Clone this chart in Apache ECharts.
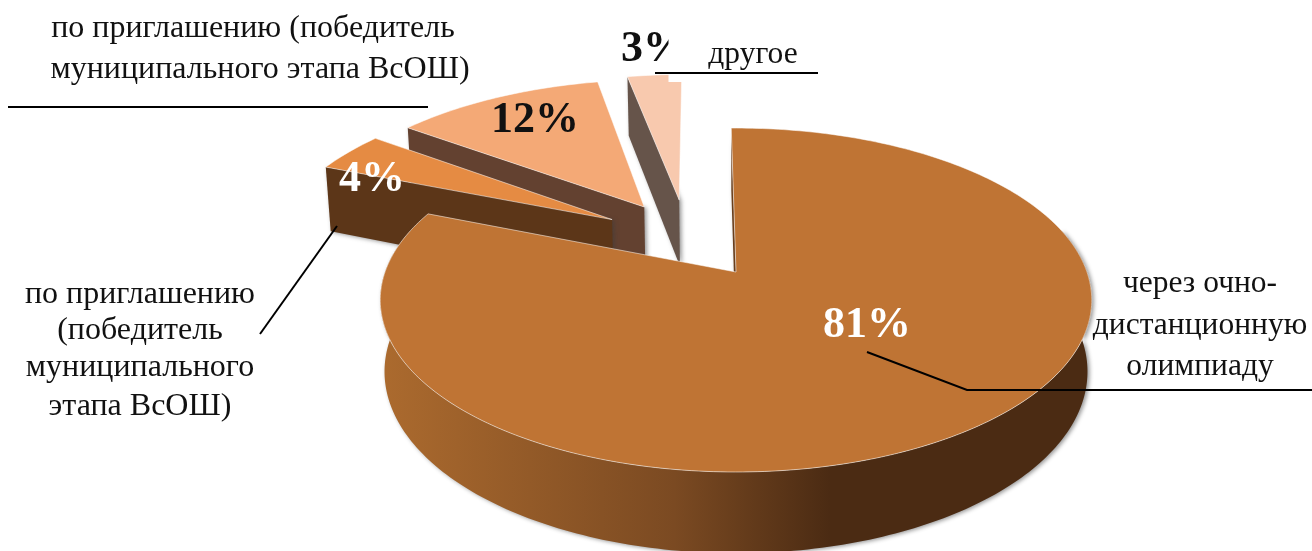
<!DOCTYPE html>
<html><head><meta charset="utf-8">
<script src="https://cdn.jsdelivr.net/npm/echarts@6/dist/echarts.min.js"></script>
<style>html,body{margin:0;padding:0;background:#fff}#c{width:1312px;height:551px}</style>
</head><body><div id="c"></div>
<script>
const categories = ['через очно-дистанционную олимпиаду','по приглашению (победитель муниципального этапа ВсОШ)','по приглашению (победитель муниципального этапа ВсОШ)','другое'];
const values = [81, 4, 12, 3];

// styling / projection constants
const topColors = ['#BF7434', '#E58B43', '#F4A976', '#F8C9AE'];
const wallColors = [null, '#5C3618', '#634130', '#66544A'];
const explode = [[0, 0], [-0.372, -0.33], [-0.279, -0.4145], [-0.174, -0.462]];
const startTweak = [-0.9, 0, 0, -1.2];
const endTweak = [0, 0, -1, -1];
const drawOrder = [4, 2, 1, 0];
const P = { cx: 736, cy: 272, rx: 351, ry: 167.4, k: 0.163, depth: 70, s: 0.988 };

const total = values.reduce((a, b) => a + b, 0);
function project(u, v, low) {
  const w = 1 - P.k * v, s = low ? P.s : 1;
  return [P.cx + P.rx * s * u / w, P.cy + (P.ry * s * v + (low ? P.depth : 0)) / w];
}
const mainWall = { type: 'linear', x: 385, y: 0, x2: 830, y2: 0, global: true,
  colorStops: [{ offset: 0, color: '#AB6A2E' }, { offset: 0.65, color: '#7B4A22' }, { offset: 1, color: '#4B2B13' }] };

function renderItem(params, api) {
  const i = params.dataIndex;
  let before = 0;
  for (let j = 0; j < i; j++) before += values[j];
  const a0 = before / total * 360 + startTweak[i];
  const a1 = (before + api.value(0)) / total * 360 + endTweak[i];
  const [ou, ov] = explode[i];
  const rim = (deg, low) => {
    const t = deg * Math.PI / 180;
    return project(Math.sin(t) + ou, -Math.cos(t) + ov, low);
  };
  const apex = low => project(ou, ov, low);
  const topRim = [];
  for (let a = a0; a < a1; a += 1) topRim.push(rim(a, false));
  topRim.push(rim(a1, false));
  // only the front-facing part of the outer rim has a visible wall
  const wallTop = [], wallLow = [];
  for (let a = Math.max(a0, 75); a <= Math.min(a1, 285); a += 1) { wallTop.push(rim(a, false)); wallLow.push(rim(a, true)); }
  const wallFill = wallColors[i] || mainWall;
  const z2 = drawOrder[i] * 10;
  const wallStyle = { fill: wallFill, stroke: null, shadowColor: 'rgba(60,60,60,0.55)', shadowBlur: 4, shadowOffsetX: 2, shadowOffsetY: 1 };
  const wall = (pts, z) => ({ type: 'polygon', z2: z, shape: { points: pts }, style: wallStyle, silent: true });
  const children = [];
  if (wallTop.length) children.push(wall(wallTop.concat(wallLow.reverse()), z2));
  children.push(wall([rim(a0, false), apex(false), apex(true), rim(a0, true)], z2 + 1));
  children.push({ type: 'polygon', z2: z2 + 2, silent: true,
    shape: { points: topRim.concat([apex(false)]) },
    style: { fill: topColors[i], stroke: 'rgba(255,255,255,0.65)', lineWidth: 0.8 } });
  return { type: 'group', children };
}

const serif = '"Liberation Serif","Times New Roman",serif';
const txt = (x, y, text, size) => ({
  type: 'text', x, y, z: 20, silent: true,
  style: { text, font: `${size}px ${serif}`, fill: '#111', align: 'center', verticalAlign: 'middle' }
});
const pct = (x, y, i, fill, align) => ({
  type: 'text', x, y, z: 12, silent: true,
  style: { text: values[i] + '%', font: `bold 44px ${serif}`, fill, align: align || 'center', verticalAlign: 'middle' }
});
const line = (pts, w) => ({ type: 'polyline', z: 30, silent: true, shape: { points: pts }, style: { stroke: '#000', lineWidth: w || 2, fill: null } });

const chart = echarts.init(document.getElementById('c'), null, { renderer: 'canvas' });
chart.setOption({
  animation: false,
  backgroundColor: '#fff',
  series: [{
    type: 'custom', coordinateSystem: 'none', name: 'share', clip: false,
    data: values.map((v, i) => ({ value: [v], name: categories[i] })),
    renderItem
  }],
  graphic: { elements: [
    pct(867, 326, 0, '#fff'),
    pct(372, 180, 1, '#fff'),
    pct(535, 121, 2, '#111'),
    pct(621, 50, 3, '#111', 'left'),
    { type: 'rect', z: 15, silent: true, shape: { x: 668.5, y: 20, width: 25, height: 62 }, style: { fill: '#fff' } },
    txt(253, 29, 'по приглашению (победитель', 32),
    txt(260, 70, 'муниципального этапа ВсОШ)', 32),
    txt(753, 55, 'другое', 31.5),
    txt(140, 295, 'по приглашению', 32),
    txt(140, 331, '(победитель', 32),
    txt(140, 368, 'муниципального', 32),
    txt(140, 407, 'этапа ВсОШ)', 32),
    txt(1200, 284, 'через очно-', 31.5),
    txt(1200, 326, 'дистанционную', 31.5),
    txt(1200, 367, 'олимпиаду', 31.5),
    line([[8, 107], [428, 107]]),
    line([[655, 73], [818, 73]]),
    line([[337, 226], [260, 334]]),
    line([[867, 352], [967, 390], [1312, 390]])
  ] }
});
</script></body></html>
